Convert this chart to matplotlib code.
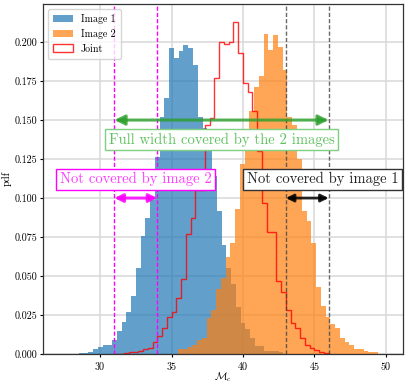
import numpy as np
import matplotlib
matplotlib.use("Agg")
import matplotlib.pyplot as plt

plt.rcParams['font.family'] = 'serif'
plt.rcParams['font.serif'] = ['cmr10', 'DejaVu Serif']
plt.rcParams['mathtext.fontset'] = 'cm'
plt.rcParams['axes.formatter.use_mathtext'] = True

# histogram values (pdf per bin, bin width 1/3)
img1_start = 28.5
img1_pdf = [0.0005, 0.0008, 0.0015, 0.003, 0.0045, 0.006, 0.006,
            0.009, 0.015, 0.0205, 0.027, 0.037, 0.055,
            0.0756, 0.087, 0.099, 0.126, 0.152, 0.164,
            0.196, 0.190, 0.194, 0.198, 0.196, 0.185,
            0.152, 0.145, 0.130, 0.114, 0.092, 0.070,
            0.055, 0.045, 0.030, 0.020, 0.016, 0.010,
            0.005, 0.005, 0.002, 0.002, 0.002, 0.001]

img2_start = 35.45
img2_pdf = [0.003, 0.0035, 0.0045, 0.006, 0.009, 0.010,
            0.023, 0.028, 0.042, 0.049, 0.062, 0.071,
            0.093, 0.122, 0.135, 0.156, 0.171, 0.178,
            0.205, 0.195, 0.2045, 0.197, 0.182, 0.152,
            0.147, 0.125, 0.092, 0.085, 0.071, 0.043,
            0.031, 0.024, 0.019, 0.0167, 0.010, 0.0077,
            0.0058, 0.003, 0.003, 0.002, 0.0015, 0.001]

joint_start = 31.0
joint_pdf = [0.0, 0.0003, 0.0005, 0.001, 0.0015, 0.002, 0.003, 0.004,
             0.0077, 0.0115, 0.017, 0.024, 0.027, 0.036, 0.048,
             0.077, 0.087, 0.105, 0.105,
             0.147, 0.151, 0.177, 0.200, 0.199, 0.200,
             0.213, 0.193, 0.174, 0.168, 0.156, 0.130,
             0.097, 0.078, 0.078, 0.047, 0.040, 0.028, 0.020,
             0.017, 0.010, 0.006, 0.004, 0.0025, 0.001, 0.0005]

bw = 1.0 / 3.0
lim2 = (31, 34)   # not covered by image 2
lim1 = (43, 46)   # not covered by image 1

def edges(start, vals):
    return start + bw * np.arange(len(vals) + 1)

fig = plt.figure(figsize=(4.07, 3.84), dpi=100)
ax = fig.add_axes([0.1057, 0.078, 0.8843, 0.9116])

e1 = edges(img1_start, img1_pdf)
e2 = edges(img2_start, img2_pdf)
ej = edges(joint_start, joint_pdf)
ax.hist(e1[:-1], bins=e1, weights=img1_pdf, histtype='stepfilled',
        color='C0', alpha=0.7, label='Image 1')
ax.hist(e2[:-1], bins=e2, weights=img2_pdf, histtype='stepfilled',
        color='C1', alpha=0.7, label='Image 2')
ax.hist(ej[:-1], bins=ej, weights=joint_pdf, histtype='step',
        color='red', alpha=0.8, lw=1.0, label='Joint')

for v in lim2:
    ax.axvline(v, color='magenta', ls='--', lw=1.0, dashes=(3, 1.5))
for v in lim1:
    ax.axvline(v, color='#444444', ls='--', lw=1.0, dashes=(3, 1.5), alpha=0.8)

green = '#2ca02c'
ax.annotate('', xy=(lim2[0], 0.15), xytext=(lim1[1], 0.15),
            arrowprops=dict(arrowstyle='<|-|>', color=green, alpha=0.8,
                            lw=2.2, mutation_scale=15, shrinkA=0, shrinkB=0))
ax.annotate('', xy=(lim2[0], 0.10), xytext=(lim2[1], 0.10),
            arrowprops=dict(arrowstyle='<|-|>', color='magenta', alpha=0.85,
                            lw=2.2, mutation_scale=12, shrinkA=0, shrinkB=0))
ax.annotate('', xy=(lim1[0], 0.10), xytext=(lim1[1], 0.10),
            arrowprops=dict(arrowstyle='<|-|>', color='black', alpha=0.85,
                            lw=2.0, mutation_scale=11, shrinkA=0, shrinkB=0))

ax.text(38.5, 0.1375, 'Full width covered by the 2 images', fontsize=10.5,
        color='#5fc25f', ha='center', va='center',
        bbox=dict(boxstyle='square,pad=0.25', fc='white', ec='#7fd07f', lw=1.0))
ax.text(32.5, 0.112, 'Not covered by image 2', fontsize=10.5,
        color='#ff3cff', ha='center', va='center',
        bbox=dict(boxstyle='square,pad=0.25', fc='white', ec='magenta', lw=1.0))
ax.text(45.6, 0.112, 'Not covered by image 1', fontsize=10.5,
        color='#222222', ha='center', va='center',
        bbox=dict(boxstyle='square,pad=0.25', fc='white', ec='#333333', lw=1.0))

ax.set_xlim(26, 51.2)
ax.set_ylim(0, 0.2244)
ax.set_xticks([30, 35, 40, 45, 50])
ax.set_yticks(np.arange(0, 0.201, 0.025))
ax.yaxis.set_major_formatter(matplotlib.ticker.FormatStrFormatter('%.3f'))
ax.tick_params(labelsize=7.2, length=2.5, width=0.8, pad=1.5)
ax.grid(True, color='#d9d9d9', lw=1.1)
ax.set_axisbelow(True)
for s in ax.spines.values():
    s.set_color('#333333')
    s.set_linewidth(0.9)
ax.set_xlabel(r'$\mathcal{M}_c$', fontsize=7.5, labelpad=-1)
ax.set_ylabel('pdf', fontsize=7.5, labelpad=2)
ax.legend(loc='upper left', fontsize=7.2, framealpha=0.8, edgecolor='#cccccc',
          borderpad=0.5, handleheight=0.8)

fig.savefig('out.png', dpi=100)
